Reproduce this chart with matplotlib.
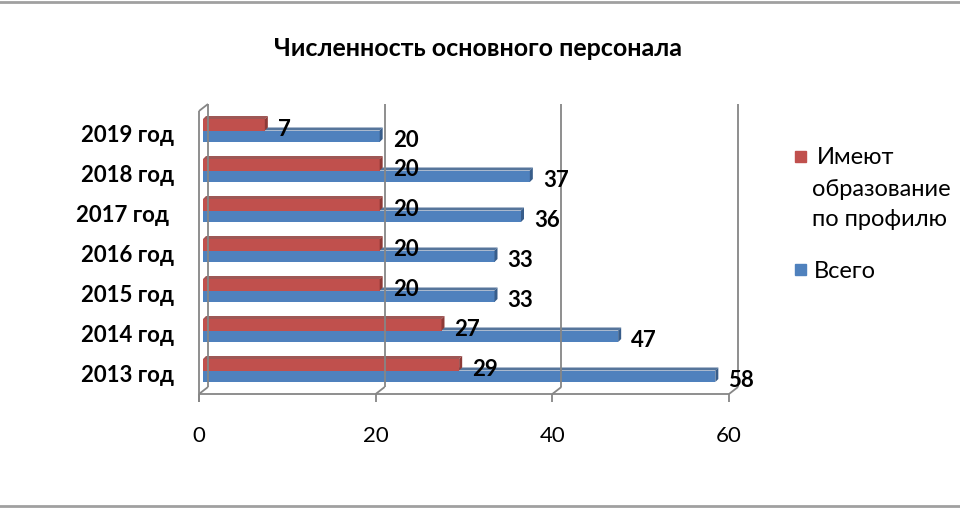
import matplotlib
matplotlib.use("Agg")
import matplotlib.pyplot as plt
from matplotlib.patches import Polygon, Rectangle
from matplotlib.lines import Line2D

# data
Years = ["2013 год", "2014 год", "2015 год", "2016 год", "2017 год ", "2018 год", "2019 год"]
Profile = [29, 27, 20, 20, 20, 20, 7]
Total = [58, 47, 33, 33, 36, 37, 20]
XTicks = [0, 20, 40, 60]
Title = "Численность основного персонала"
ProfileName = ["Имеют", "образование", "по профилю"]
TotalName = "Всего"

plt.rcParams["font.family"] = ["Lato", "Open Sans", "DejaVu Sans"]

RED = "#C0504D"
RED_DARK = "#8E3A37"
BLUE = "#4F81BD"
BLUE_DARK = "#385D8A"
GRID = "#868686"

Figure = plt.figure(figsize=(9.6, 5.1), dpi=100)
# axes box = front plane of the 3d plot area (in pixels 199..729, 112..395)
Axes = Figure.add_axes([199 / 960, (510 - 395) / 510, 530 / 960, 283 / 510])
YBottom = -0.4875
YTop = 6.5875
Axes.set_xlim(0, 60)
Axes.set_ylim(YBottom, YTop)
Axes.axis("off")

XPX = 530 / 60.0   # pixels per x unit
YPX = 283 / (YTop - YBottom)  # pixels per category unit


def px(dx, dy):
    return dx / XPX, dy / YPX


BackX, BackY = px(9, 7)

def Line(xs, ys):
    Axes.add_line(Line2D(xs, ys, color=GRID, lw=1.3, clip_on=False, solid_capstyle="butt"))

# walls, gridlines, floor
for Tick in XTicks:
    Line([Tick + BackX, Tick + BackX], [YBottom + BackY, YTop + BackY])
    Line([Tick + BackX, Tick], [YBottom + BackY, YBottom])
    Line([Tick, Tick], [YBottom, YBottom - 8 / YPX])
    Axes.text(Tick, YBottom - 41 / YPX, str(Tick), ha="center", va="center",
              fontsize=16, color="black")
Line([0, 0], [YBottom - 8 / YPX, YTop])
Line([0, BackX], [YTop, YTop + BackY])
Line([0, 60], [YBottom, YBottom])

# bars, with a small 3d depth face
Height = 11.5 / YPX
FaceX, FaceY = px(4, 4)
DepX, DepY = px(3, 3)


def Bar3D(y, value, face, dark):
    Axes.barh(y + FaceY, value, left=FaceX, height=Height, color=face,
              edgecolor="none", clip_on=False)
    x0 = FaceX
    x1 = FaceX + value
    top = y + FaceY + Height / 2
    bot = y + FaceY - Height / 2
    Axes.add_patch(Polygon([(x0, top), (x1, top), (x1 + DepX, top + DepY), (x0 + DepX, top + DepY)],
                           closed=True, color=dark, alpha=0.85, lw=0, clip_on=False))
    Axes.add_patch(Polygon([(x1, bot), (x1, top), (x1 + DepX, top + DepY), (x1 + DepX, bot + DepY)],
                           closed=True, color=dark, lw=0, clip_on=False))


Gap = 17 / XPX
for Index, Year in enumerate(Years):
    Bar3D(Index - Height / 2, Total[Index], BLUE, BLUE_DARK)
    Bar3D(Index + Height / 2, Profile[Index], RED, RED_DARK)
    Axes.text(Profile[Index] + Gap, Index + 6 / YPX, str(Profile[Index]), ha="left",
              va="center", fontsize=16, fontweight="bold")
    Axes.text(Total[Index] + Gap, Index - 5 / YPX, str(Total[Index]), ha="left",
              va="center", fontsize=16, fontweight="bold")
    Axes.text(-25 / XPX, Index, Year, ha="right", va="center", fontsize=16,
              fontweight="bold")

Figure.text(478 / 960, 1 - 49 / 510, Title, ha="center", va="center", fontsize=18,
            fontweight="bold")

# legend, placed by hand
Figure.patches.append(Rectangle((795 / 960, (510 - 163) / 510), 11 / 960, 11 / 510,
                                transform=Figure.transFigure, color=RED))
Figure.patches.append(Rectangle((795 / 960, (510 - 276) / 510), 11 / 960, 11 / 510,
                                transform=Figure.transFigure, color=BLUE))
for Row, Text in enumerate(ProfileName):
    Figure.text((817 if Row == 0 else 812) / 960, 1 - (158 + 31 * Row) / 510, Text,
                ha="left", va="center", fontsize=17)
Figure.text(814 / 960, 1 - 272 / 510, TotalName, ha="left", va="center", fontsize=17)

# frame lines top and bottom
Figure.add_artist(Line2D([0, 1], [1 - 2.5 / 510, 1 - 2.5 / 510], color="#A0A0A0", lw=2,
                         transform=Figure.transFigure))
Figure.add_artist(Line2D([0, 1], [3 / 510, 3 / 510], color="#A0A0A0", lw=2,
                         transform=Figure.transFigure))

Figure.savefig("out.png", dpi=100, facecolor="white")
